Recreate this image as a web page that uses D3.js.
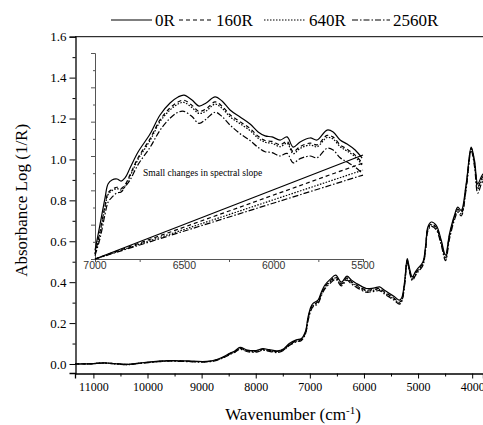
<!DOCTYPE html>
<html>
  <head>
    <meta charset="utf-8">
    <script src="https://d3js.org/d3.v7.min.js"></script>
    <style>
      body { margin: 0px; background: #fff; }
      text { font-family: "Times New Roman", "Liberation Serif", serif; fill: #000; }
      .inset-tick { font-family: "Liberation Sans", Arial, sans-serif; font-size: 10.5px; }
    </style>
  </head>
  <body>
    <div id="chart"></div>
    <script>
      // series names and dash styles
      const seriesNames = ['0R', '160R', '640R', '2560R'];
      const dashes = [null, '4,3', '1.5,1.5', '6,2,1.5,2'];

      // main spectra: wavenumber (cm-1) and absorbance
      const wn = [11340, 11000, 10820, 10600, 10380, 10100, 9800, 9570, 9300, 8900, 8720, 8600, 8480, 8380, 8290, 8150, 7990, 7870, 7750, 7600, 7480, 7380, 7250, 7155, 7080, 7033, 6980, 6941, 6849, 6790, 6725, 6620, 6522, 6417, 6314, 6230, 6140, 5956, 5895, 5800, 5711, 5620, 5527, 5440, 5343, 5300, 5250, 5200, 5160, 5107, 5050, 5004, 4911, 4860, 4819, 4756, 4664, 4572, 4493, 4419, 4327, 4266, 4203, 4111, 4018, 3957, 3897, 3834, 3800];
      const abs0R = [0.000, 0.002, 0.006, 0.002, -0.002, 0.006, 0.014, 0.017, 0.015, 0.013, 0.022, 0.035, 0.052, 0.065, 0.081, 0.068, 0.066, 0.075, 0.070, 0.064, 0.075, 0.100, 0.118, 0.125, 0.160, 0.230, 0.280, 0.296, 0.312, 0.350, 0.385, 0.415, 0.434, 0.400, 0.430, 0.410, 0.394, 0.369, 0.369, 0.372, 0.377, 0.360, 0.344, 0.330, 0.312, 0.325, 0.400, 0.515, 0.470, 0.426, 0.450, 0.467, 0.499, 0.580, 0.670, 0.694, 0.678, 0.605, 0.532, 0.637, 0.727, 0.767, 0.751, 0.881, 1.060, 0.995, 0.881, 0.914, 0.930];
      const abs160R = [0.000, 0.002, 0.005, 0.002, -0.002, 0.005, 0.013, 0.016, 0.014, 0.012, 0.020, 0.033, 0.050, 0.062, 0.077, 0.065, 0.063, 0.072, 0.067, 0.061, 0.072, 0.096, 0.114, 0.121, 0.155, 0.222, 0.272, 0.289, 0.305, 0.342, 0.377, 0.407, 0.425, 0.392, 0.421, 0.402, 0.386, 0.361, 0.362, 0.365, 0.369, 0.352, 0.336, 0.321, 0.302, 0.316, 0.392, 0.508, 0.462, 0.418, 0.442, 0.459, 0.492, 0.572, 0.662, 0.685, 0.669, 0.596, 0.521, 0.628, 0.719, 0.757, 0.741, 0.872, 1.055, 0.985, 0.866, 0.902, 0.918];
      const abs640R = [0.000, 0.002, 0.005, 0.001, -0.003, 0.005, 0.012, 0.015, 0.013, 0.011, 0.019, 0.032, 0.048, 0.060, 0.075, 0.063, 0.061, 0.070, 0.065, 0.059, 0.070, 0.094, 0.112, 0.119, 0.152, 0.218, 0.268, 0.285, 0.301, 0.338, 0.373, 0.403, 0.421, 0.389, 0.417, 0.398, 0.382, 0.357, 0.358, 0.361, 0.365, 0.348, 0.332, 0.317, 0.298, 0.312, 0.388, 0.504, 0.458, 0.414, 0.438, 0.455, 0.488, 0.568, 0.658, 0.680, 0.664, 0.591, 0.515, 0.622, 0.714, 0.752, 0.735, 0.866, 1.050, 0.978, 0.855, 0.893, 0.910];
      const abs2560R = [0.000, 0.001, 0.004, 0.001, -0.003, 0.004, 0.011, 0.014, 0.012, 0.010, 0.018, 0.030, 0.046, 0.058, 0.072, 0.060, 0.058, 0.067, 0.062, 0.056, 0.067, 0.090, 0.108, 0.115, 0.148, 0.212, 0.262, 0.279, 0.295, 0.332, 0.366, 0.396, 0.414, 0.382, 0.410, 0.391, 0.375, 0.351, 0.352, 0.355, 0.359, 0.342, 0.326, 0.311, 0.293, 0.306, 0.382, 0.498, 0.452, 0.408, 0.432, 0.449, 0.482, 0.560, 0.650, 0.673, 0.656, 0.582, 0.505, 0.612, 0.705, 0.742, 0.724, 0.855, 1.043, 0.965, 0.835, 0.878, 0.896];

      // inset: spectra between 7000 and 5500 cm-1 (arbitrary units)
      const insetWn = [7000, 6972, 6944, 6927, 6905, 6877, 6854, 6832, 6804, 6759, 6692, 6636, 6580, 6535, 6502, 6457, 6418, 6378, 6328, 6289, 6244, 6188, 6132, 6087, 6048, 6009, 5964, 5925, 5891, 5852, 5796, 5757, 5701, 5667, 5628, 5589, 5544, 5505];
      const inset0R = [0.05, 0.20, 0.355, 0.437, 0.460, 0.466, 0.454, 0.472, 0.530, 0.623, 0.728, 0.839, 0.909, 0.944, 0.955, 0.926, 0.891, 0.909, 0.944, 0.920, 0.868, 0.827, 0.786, 0.740, 0.717, 0.711, 0.693, 0.711, 0.652, 0.682, 0.705, 0.693, 0.751, 0.740, 0.693, 0.670, 0.635, 0.588];
      const inset160R = [0.03, 0.16, 0.310, 0.385, 0.405, 0.418, 0.410, 0.432, 0.490, 0.590, 0.700, 0.810, 0.880, 0.915, 0.925, 0.895, 0.860, 0.875, 0.915, 0.890, 0.840, 0.800, 0.760, 0.715, 0.690, 0.685, 0.665, 0.685, 0.625, 0.655, 0.675, 0.665, 0.720, 0.710, 0.665, 0.640, 0.605, 0.560];
      const inset640R = [0.03, 0.15, 0.300, 0.375, 0.398, 0.410, 0.402, 0.425, 0.482, 0.580, 0.690, 0.800, 0.868, 0.903, 0.912, 0.882, 0.848, 0.862, 0.902, 0.878, 0.828, 0.788, 0.748, 0.704, 0.680, 0.674, 0.654, 0.674, 0.614, 0.644, 0.664, 0.654, 0.708, 0.698, 0.654, 0.629, 0.595, 0.548];
      const inset2560R = [0.02, 0.12, 0.260, 0.330, 0.360, 0.385, 0.390, 0.420, 0.460, 0.550, 0.650, 0.750, 0.820, 0.855, 0.860, 0.830, 0.790, 0.815, 0.855, 0.830, 0.780, 0.730, 0.690, 0.650, 0.625, 0.620, 0.600, 0.615, 0.560, 0.585, 0.600, 0.590, 0.645, 0.635, 0.590, 0.565, 0.535, 0.500];
      // straight "spectral slope" lines: value at 7000 and at 5500
      const slopeWn = [7000, 5500];
      const slope0R = [0, 0.606];
      const slope160R = [0, 0.559];
      const slope640R = [0, 0.518];
      const slope2560R = [0, 0.489];

      // tick labels
      const xTicks = [11000, 10000, 9000, 8000, 7000, 6000, 5000, 4000];
      const yTicks = [0, 0.2, 0.4, 0.6, 0.8, 1.0, 1.2, 1.4, 1.6];
      const insetXTicks = [7000, 6500, 6000, 5500];

      const width = 483, height = 425;
      const svg = d3.select('#chart').append('svg')
        .attr('width', width).attr('height', height);

      const x = d3.scaleLinear().domain([11340, 3800]).range([75, 483]);
      const y = d3.scaleLinear().domain([-0.044, 1.6]).range([373, 36.7]);

      svg.append('clipPath').attr('id', 'clip')
        .append('rect').attr('x', 75).attr('y', 36).attr('width', 410).attr('height', 338);

      // ---- main axes ----
      const xAxis = d3.axisBottom(x).tickValues(xTicks).tickSize(5).tickPadding(4)
        .tickFormat(d3.format('d'));
      const xAxisG = svg.append('g').attr('transform', 'translate(0,373.5)').call(xAxis);
      svg.append('g').attr('transform', 'translate(0,373.5)')
        .call(d3.axisBottom(x).tickValues(d3.range(10500, 3800, -1000)).tickSize(3).tickFormat(''))
        .select('.domain').remove();
      xAxisG.attr('font-family', null).attr('font-size', null);
      xAxisG.selectAll('text').style('font-size', '12px');

      const yAxis = d3.axisLeft(y).tickValues(yTicks).tickSize(6).tickPadding(3)
        .tickFormat(d3.format('.1f'));
      const yAxisG = svg.append('g').attr('transform', 'translate(75.5,0)').call(yAxis);
      svg.append('g').attr('transform', 'translate(75.5,0)')
        .call(d3.axisLeft(y).tickValues(d3.range(0.1, 1.6, 0.2)).tickSize(3).tickFormat(''))
        .select('.domain').remove();
      yAxisG.attr('font-family', null).attr('font-size', null);
      yAxisG.selectAll('text').style('font-size', '13px');
      svg.selectAll('.domain').attr('stroke-width', 1.3);

      // top frame
      svg.append('line').attr('x1', 75).attr('x2', 483)
        .attr('y1', y(1.6)).attr('y2', y(1.6)).attr('stroke', '#000').attr('stroke-width', 1);

      // axis labels
      svg.append('text').attr('transform', 'translate(27,' + y(0.8) + ') rotate(-90)')
        .attr('text-anchor', 'middle').style('font-size', '17px').text('Absorbance Log (1/R)');
      const xl = svg.append('text').attr('x', 293).attr('y', 420)
        .attr('text-anchor', 'middle').style('font-size', '17px');
      xl.append('tspan').text('Wavenumber (cm');
      xl.append('tspan').attr('dy', -6).style('font-size', '11px').text('-1');
      xl.append('tspan').attr('dy', 6).text(')');

      // main spectra
      const mainSeries = [abs0R, abs160R, abs640R, abs2560R];
      const mainLine = d3.line().x((d, i) => x(wn[i])).y(d => y(d)).curve(d3.curveCatmullRom);
      svg.append('g').attr('clip-path', 'url(#clip)')
        .selectAll('path').data(mainSeries).enter().append('path')
        .attr('d', mainLine)
        .attr('fill', 'none').attr('stroke', '#000').attr('stroke-width', 1.2)
        .attr('stroke-dasharray', (d, i) => dashes[i]);

      // ---- inset ----
      const ix = d3.scaleLinear().domain([7000, 5500]).range([95, 363]);
      const iy = d3.scaleLinear().domain([0, 1.2]).range([259, 53]);
      const ig = svg.append('g');
      ig.append('g').attr('transform', 'translate(0,259)')
        .call(d3.axisBottom(ix).tickValues(d3.range(7000, 5499, -250)).tickSize(3).tickFormat(''));
      ig.selectAll('.ilab').data(insetXTicks).enter().append('text')
        .attr('class', 'inset-tick').attr('x', d => ix(d)).attr('y', 269)
        .attr('text-anchor', 'middle').style('fill', '#333').text(d => d);
      ig.append('g').attr('transform', 'translate(95,0)')
        .call(d3.axisLeft(iy).tickValues(d3.range(0, 1.21, 0.2)).tickSize(4).tickFormat(''));
      ig.append('g').attr('transform', 'translate(95,0)')
        .call(d3.axisLeft(iy).tickValues(d3.range(0.1, 1.2, 0.2)).tickSize(2).tickFormat(''))
        .select('.domain').remove();
      ig.selectAll('line, path').attr('stroke', '#555');

      const insetSeries = [inset0R, inset160R, inset640R, inset2560R];
      const insetLine = d3.line().x((d, i) => ix(insetWn[i])).y(d => iy(d)).curve(d3.curveCatmullRom);
      ig.selectAll('.ispec').data(insetSeries).enter().append('path')
        .attr('d', insetLine)
        .attr('fill', 'none').attr('stroke', '#000').attr('stroke-width', 1.2)
        .attr('stroke-dasharray', (d, i) => dashes[i]);

      const slopeSeries = [slope0R, slope160R, slope640R, slope2560R];
      const slopeLine = d3.line().x((d, i) => ix(slopeWn[i])).y(d => iy(d));
      ig.selectAll('.islope').data(slopeSeries).enter().append('path')
        .attr('d', slopeLine)
        .attr('fill', 'none').attr('stroke', '#000').attr('stroke-width', 1.2)
        .attr('stroke-dasharray', (d, i) => dashes[i]);

      ig.append('text').attr('x', 143).attr('y', 176).style('font-size', '9.5px')
        .text('Small changes in spectral slope');

      // ---- legend ----
      const legendX = [111, 179, 264, 352];
      const legendW = [41, 34, 42, 38];
      const lg = svg.append('g');
      seriesNames.forEach((name, i) => {
        lg.append('line').attr('x1', legendX[i]).attr('x2', legendX[i] + legendW[i])
          .attr('y1', 20).attr('y2', 20).attr('stroke', '#000').attr('stroke-width', 1.1)
          .attr('stroke-dasharray', dashes[i]);
        lg.append('text').attr('x', legendX[i] + legendW[i] + 3).attr('y', 26)
          .style('font-size', '17px').text(name);
      });
    </script>
  </body>
</html>
